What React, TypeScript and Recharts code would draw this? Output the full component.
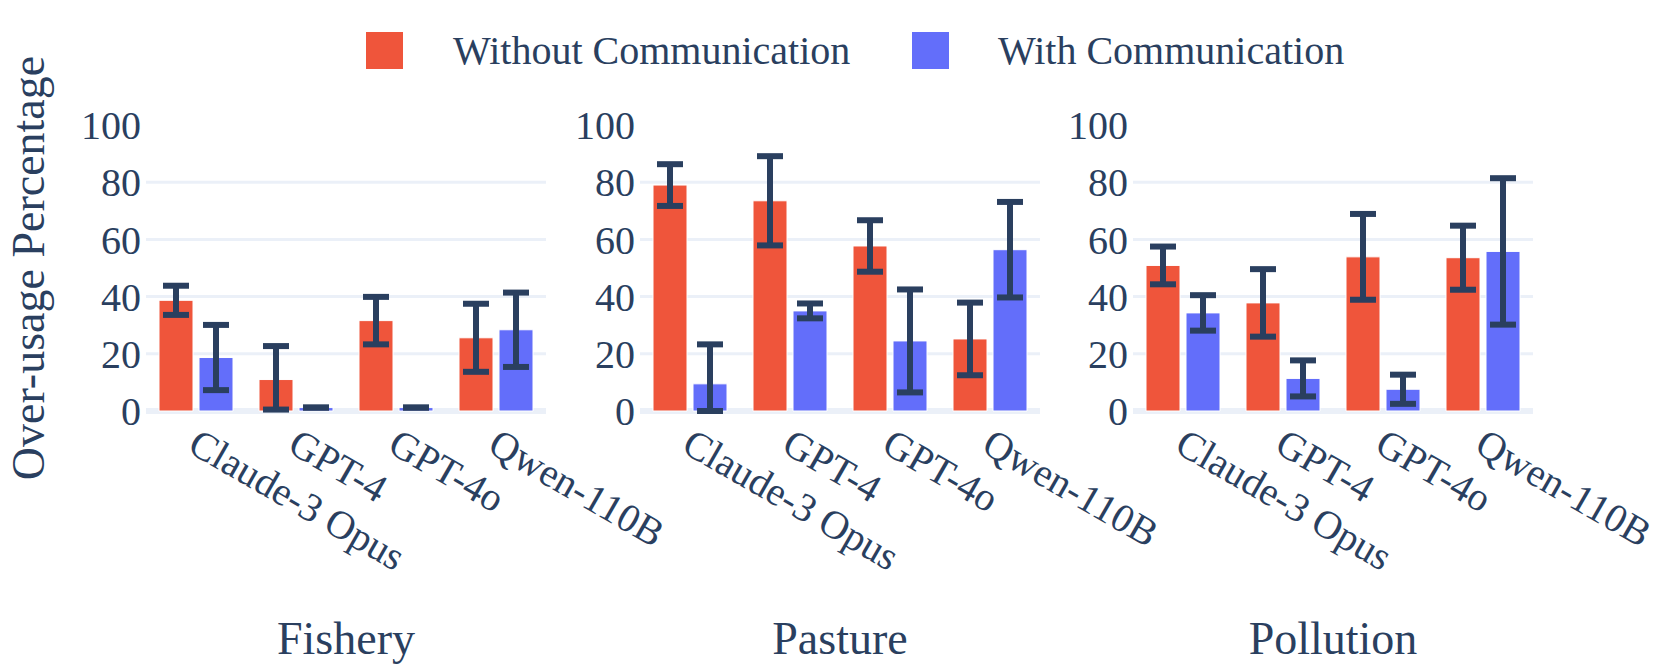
import { BarChart, Bar, XAxis, YAxis, CartesianGrid, ErrorBar } from "recharts";

const models = ["Claude-3 Opus", "GPT-4", "GPT-4o", "Qwen-110B"];
const panelTitles = ["Fishery", "Pasture", "Pollution"];
const yTicks = [0, 20, 40, 60, 80, 100];

// [minus, plus] error for each bar
const fisheryWithout = [38.7, 11.0, 31.6, 25.6];
const fisheryWithoutErr = [[5.1, 5.1], [10.5, 11.7], [8.3, 8.3], [11.9, 11.9]];
const fisheryWith = [18.7, 1.2, 1.2, 28.4];
const fisheryWithErr = [[11.4, 11.4], [0.01, 0.01], [0.01, 0.01], [13.0, 13.0]];

const pastureWithout = [79.0, 73.5, 57.7, 25.2];
const pastureWithoutErr = [[7.3, 7.3], [15.6, 15.6], [9.0, 9.0], [12.7, 12.7]];
const pastureWith = [9.5, 35.0, 24.5, 56.4];
const pastureWithErr = [[9.5, 13.8], [2.6, 2.6], [18.0, 18.0], [16.7, 16.7]];

const pollutionWithout = [50.9, 37.8, 53.9, 53.6];
const pollutionWithoutErr = [[6.6, 6.6], [11.8, 11.8], [15.0, 15.0], [11.2, 11.2]];
const pollutionWith = [34.3, 11.4, 7.6, 55.8];
const pollutionWithErr = [[6.2, 6.2], [6.3, 6.3], [5.1, 5.1], [25.6, 25.6]];

const RED = "#EF553B";
const BLUE = "#636EFA";
const INK = "#2a3f5f";
const GRID = "#EBF0F8";
const FONT = '"Liberation Serif", "Times New Roman", serif';

const series = [
  { key: "without", label: "Without Communication", color: RED },
  { key: "withComm", label: "With Communication", color: BLUE },
];

function rows(w: number[], wErr: number[][], c: number[], cErr: number[][]) {
  return models.map((m, i) => ({
    model: m,
    without: w[i],
    withoutErr: wErr[i],
    withComm: c[i],
    withCommErr: cErr[i],
  }));
}

const panels = [
  { title: panelTitles[0], data: rows(fisheryWithout, fisheryWithoutErr, fisheryWith, fisheryWithErr), left: 66 },
  { title: panelTitles[1], data: rows(pastureWithout, pastureWithoutErr, pastureWith, pastureWithErr), left: 560 },
  { title: panelTitles[2], data: rows(pollutionWithout, pollutionWithoutErr, pollutionWith, pollutionWithErr), left: 1053 },
];

const Y_W = 80;
const PLOT_W = 400;
const TOP = 125;
const PLOT_H = 286;

function ModelTick({ x, y, payload }: any) {
  return (
    <g transform={`translate(${x - 10},${y + 40}) rotate(30)`}>
      <text x={0} y={0} textAnchor="start" fill={INK} fontSize={40} fontFamily={FONT}>
        {payload.value}
      </text>
    </g>
  );
}

function Panel({ data }: { data: any[] }) {
  return (
    <BarChart
      width={Y_W + PLOT_W + 130}
      height={TOP + PLOT_H + 200}
      data={data}
      margin={{ top: TOP, right: 130, bottom: 0, left: 0 }}
      barGap={6}
      style={{ overflow: "visible" }}
    >
      <CartesianGrid vertical={false} horizontalValues={[0]} stroke={GRID} strokeWidth={6} />
      <CartesianGrid vertical={false} horizontalValues={[20, 40, 60, 80]} stroke={GRID} strokeWidth={3} />
      <XAxis
        dataKey="model"
        interval={0}
        height={200}
        axisLine={false}
        tickLine={false}
        tickSize={0}
        tickMargin={0}
        tick={<ModelTick />}
      />
      <YAxis
        domain={[0, 100]}
        ticks={yTicks}
        width={Y_W}
        axisLine={false}
        tickLine={false}
        tickSize={0}
        tickMargin={5}
        tick={{ fill: INK, fontSize: 40, fontFamily: FONT }}
      />
      {series.map((s) => (
        <Bar
          key={s.key}
          dataKey={s.key}
          fill={s.color}
          stroke="#ffffff"
          strokeWidth={1}
          barSize={34}
          isAnimationActive={false}
        >
          <ErrorBar dataKey={`${s.key}Err`} width={13} strokeWidth={6} stroke={INK} direction="y" />
        </Bar>
      ))}
    </BarChart>
  );
}

export default function App() {
  return (
    <div style={{ position: "absolute", left: 0, top: 0, width: 1661, height: 664, background: "#fff", overflow: "hidden" }}>
      {panels.map((p) => (
        <div key={p.title} style={{ position: "absolute", left: p.left, top: 0 }}>
          <Panel data={p.data} />
        </div>
      ))}
      <svg
        width={1661}
        height={664}
        style={{ position: "absolute", left: 0, top: 0, pointerEvents: "none" }}
        fontFamily={FONT}
      >
        <rect x={366} y={32} width={37} height={37} fill={RED} />
        <text x={453} y={64} fontSize={40} fill={INK}>{series[0].label}</text>
        <rect x={912} y={32} width={37} height={37} fill={BLUE} />
        <text x={998} y={64} fontSize={40} fill={INK}>{series[1].label}</text>
        <text
          transform="translate(44,268) rotate(-90)"
          textAnchor="middle"
          fontSize={46}
          fill={INK}
        >
          Over-usage Percentage
        </text>
        {panels.map((p) => (
          <text key={p.title} x={p.left + Y_W + PLOT_W / 2} y={654} textAnchor="middle" fontSize={46} fill={INK}>
            {p.title}
          </text>
        ))}
      </svg>
    </div>
  );
}
